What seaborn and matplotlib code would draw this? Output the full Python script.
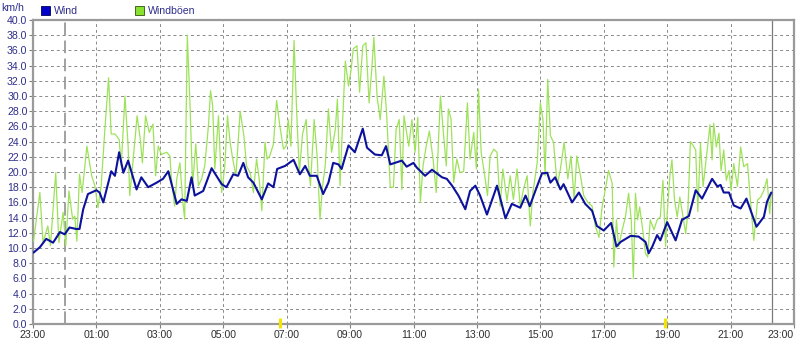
import matplotlib
matplotlib.use("Agg")
import matplotlib.pyplot as plt
import seaborn as sns
import pandas as pd
from matplotlib.patches import Patch

# ---------------- data (minutes after 23:00) ----------------
wind_min = [1, 13, 25, 38, 51, 60, 69, 82, 88, 95, 104, 120, 126, 133, 148, 155, 163, 171, 180,
            196, 205, 218, 234, 246, 256, 272, 281, 291, 300, 306, 322, 338, 357,
            366, 379, 388, 398, 407, 417, 433, 445, 455, 462, 477, 493, 505, 515, 524, 537,
            549, 559, 568, 578, 584, 597, 609, 624, 632, 647, 660, 668, 676, 698, 707, 720,
            726, 742, 755, 774, 783, 793, 805, 818, 827, 837, 846, 859, 878, 894, 906, 922,
            932, 940, 951, 963, 973, 979, 988, 998, 1004, 1020, 1033, 1045, 1058, 1067, 1080,
            1094, 1104, 1112, 1131, 1146, 1159, 1165, 1172, 1181, 1187, 1200, 1216, 1228,
            1241, 1254, 1266, 1285, 1295, 1301, 1307, 1317, 1326, 1339, 1350, 1369, 1383,
            1389, 1397]
wind_kmh = [9.4, 10.1, 11.2, 10.7, 12.1, 11.8, 12.7, 12.5, 12.5, 15.1, 17.1, 17.6, 17.3, 16.0,
            20.1, 19.5, 22.6, 19.9, 21.5, 17.7, 19.3, 18.0, 18.6, 19.1, 20.1, 15.8, 16.4, 16.2,
            19.3, 16.9, 17.5, 20.5, 18.4,
            18.0, 19.7, 19.5, 21.2, 19.3, 18.6, 16.4, 18.5, 18.0, 20.4, 20.8, 21.6, 19.7, 20.8,
            19.5, 19.5, 17.1, 18.6, 21.2, 21.0, 20.4, 23.5, 22.6, 25.7, 23.2, 22.3, 22.2, 23.4,
            21.0, 21.5, 20.7, 21.2,
            20.6, 19.5, 20.3, 19.3, 19.1, 18.2, 16.9, 15.1, 17.5, 18.2, 16.9, 14.4, 18.2, 13.9,
            15.8, 15.3, 16.9, 15.5, 17.6, 19.8, 19.9, 18.6, 19.3, 17.7, 18.4, 16.0, 17.3, 15.8,
            14.9, 12.9, 12.3,
            13.3, 10.2, 10.8, 11.6, 11.5, 10.8, 9.3, 10.2, 11.7, 11.0, 13.4, 11.0, 13.7, 14.2,
            17.6, 16.5, 19.1, 18.1, 18.3, 17.3, 17.3, 15.6, 15.2, 16.5, 12.8, 14.1, 16.1, 17.3]

gust_min = [1, 13, 19, 28, 33, 43, 49, 57, 62, 68, 75, 79, 83, 88, 93, 102, 111, 117, 123, 129,
            136, 143, 148, 155, 163, 167, 174, 180, 183, 189, 197, 203, 207, 213, 220, 227, 232,
            237, 243, 253, 259, 262, 268, 272, 278, 283, 287, 292, 297, 302, 308, 313, 319, 325,
            332, 336, 340, 344, 351, 357, 363,
            368, 373, 378, 384, 392, 399, 404, 411, 417, 423, 428, 433, 439, 443, 448, 455, 461,
            467, 474, 479, 483, 488, 494, 499, 504, 510, 517, 521, 525, 532, 538, 543, 548, 553,
            559, 565, 572, 576, 581, 586, 591, 597, 602, 606, 613, 618, 624, 630, 636, 641, 645,
            651, 657, 664, 669, 676, 682, 687, 693, 698, 702, 711, 717,
            723, 728, 733, 738, 744, 750, 757, 763, 771, 777, 782, 786, 791, 796, 802, 808, 815,
            822, 827, 834, 839, 843, 848, 854, 860, 865, 872, 878, 884, 889, 897, 903, 909, 916,
            922, 928, 935, 941, 946, 954, 960, 965, 969, 974, 979, 985, 992, 998, 1005, 1012,
            1018, 1024, 1029, 1036, 1042, 1050, 1058, 1064, 1071, 1077, 1083,
            1089, 1096, 1099, 1104, 1108, 1115, 1121, 1127, 1132, 1136, 1140, 1144, 1148, 1153,
            1159, 1163, 1168, 1175, 1181, 1187, 1192, 1197, 1200, 1205, 1209, 1214, 1219, 1224,
            1228, 1235, 1239, 1244, 1249, 1254, 1258, 1263, 1268, 1275, 1281, 1285, 1288, 1293,
            1298, 1302, 1307, 1312, 1317, 1321, 1326, 1333, 1339, 1345, 1352, 1358, 1364, 1371,
            1377, 1383, 1389, 1394, 1397]
gust_kmh = [10.9, 17.3, 10.7, 12.9, 10.3, 19.9, 10.7, 14.7, 10.3, 17.5, 13.8, 14.2, 10.9, 19.7,
            17.3, 23.4, 19.5, 18.2, 15.3, 18.2, 25.6, 32.4, 25.0, 25.0, 24.3, 20.8, 30.0, 23.4,
            16.9, 21.2, 27.4, 24.3, 21.2, 27.4, 25.2, 26.3, 19.5, 23.4, 22.3, 22.6, 22.1, 19.1,
            15.5, 19.1, 21.2, 16.4, 13.8, 38.0, 29.1, 18.2, 23.7, 18.2, 19.1, 20.8, 26.1, 30.7,
            28.7, 20.4, 27.4, 17.3, 20.8,
            27.4, 23.9, 21.7, 19.5, 28.0, 24.8, 20.8, 19.9, 17.3, 21.7, 19.1, 14.9, 23.9, 21.7,
            22.1, 23.7, 29.4, 26.1, 23.0, 23.4, 26.9, 23.4, 37.3, 27.8, 19.9, 25.0, 26.9, 21.2,
            18.2, 26.9, 21.7, 13.8, 18.2, 20.8, 28.3, 22.6, 25.6, 29.6, 18.2, 26.9, 34.6, 31.3,
            33.5, 36.2, 36.6, 30.5, 36.6, 37.0, 29.1, 33.5, 37.7, 30.0, 26.9, 32.6, 27.8, 18.0,
            18.0, 25.6, 26.9, 17.7, 27.4, 23.4, 26.9,
            22.6, 27.2, 16.0, 20.8, 23.4, 25.4, 21.7, 17.3, 30.0, 24.8, 20.8, 28.3, 27.0, 18.6,
            21.7, 19.9, 20.1, 29.1, 21.7, 25.2, 20.4, 30.9, 22.6, 19.9, 16.9, 22.1, 23.0, 22.6,
            15.5, 20.4, 16.2, 19.5, 16.4, 20.4, 15.5, 17.7, 19.5, 12.9, 17.3, 21.2, 29.1, 26.9,
            19.5, 32.2, 24.8, 23.9, 18.2, 20.4, 23.9, 19.1, 22.1, 16.4, 22.1, 19.5, 16.9, 16.0,
            15.5, 12.9, 11.4, 15.5, 17.7,
            20.2, 18.5, 7.5, 13.7, 10.2, 12.4, 14.1, 17.2, 13.7, 6.0, 17.2, 13.7, 15.4, 12.8,
            9.3, 8.8, 13.7, 12.4, 13.7, 14.1, 18.9, 10.2, 14.5, 19.4, 21.6, 16.3, 14.1, 16.7,
            15.0, 11.9, 14.5, 24.0, 23.5, 22.9, 14.8, 23.8, 18.1, 22.4, 26.2, 21.6, 26.4, 23.3,
            25.1, 20.2, 22.9, 18.9, 20.2, 17.6, 21.1, 18.1, 23.3, 20.7, 21.1, 15.9, 11.0, 16.3,
            16.7, 17.6, 19.1, 14.5, 17.2]

x_tick_min = [0, 120, 240, 360, 480, 600, 720, 840, 960, 1080, 1200, 1320, 1440]
x_tick_labels = ["23:00", "01:00", "03:00", "05:00", "07:00", "09:00", "11:00",
                 "13:00", "15:00", "17:00", "19:00", "21:00", "23:00"]
y_ticks = [0, 2, 4, 6, 8, 10, 12, 14, 16, 18, 20, 22, 24, 26, 28, 30, 32, 34, 36, 38, 40]
midnight_min = 60
now_min = 1399
sun_min = [467, 1195]
series_names = ["Wind", "Windböen"]
unit_label = "km/h"

# ---------------- plotting ----------------
sns.set_style("white")
plt.rcParams["font.family"] = ["Liberation Sans", "DejaVu Sans"]

WIND_C = "#0c129c"
GUST_C = "#9ee25a"
GRID_C = "#8a8a8a"
LABEL_Y = "#2e2e8c"

fig = plt.figure(figsize=(8, 3.4), dpi=100)
ax = fig.add_axes([33 / 800, 16 / 340, 761 / 800, 304 / 340])

df_g = pd.DataFrame({"t": gust_min, "v": gust_kmh})
df_w = pd.DataFrame({"t": wind_min, "v": wind_kmh})
sns.lineplot(data=df_g, x="t", y="v", color=GUST_C, linewidth=0.9, ax=ax, zorder=3)
sns.lineplot(data=df_w, x="t", y="v", color=WIND_C, linewidth=1.5, ax=ax, zorder=4)

ax.set_xlim(0, 1440)
ax.set_ylim(0, 40)
ax.set_xlabel("")
ax.set_ylabel("")
ax.set_xticks(x_tick_min)
ax.set_xticklabels(x_tick_labels)
ax.set_yticks(y_ticks)
ax.set_yticklabels([f"{v:.1f}" for v in y_ticks])
# keep the last label inside the canvas
ax.get_xticklabels()[-1].set_horizontalalignment("right")

ax.grid(True, color=GRID_C, linestyle=(0, (3, 3)), linewidth=0.7)
ax.set_axisbelow(True)

ax.axvline(midnight_min, color="#9a9a9a", linestyle=(0, (7, 3)), linewidth=1.3, zorder=2)
ax.axvline(now_min, color="#7a7a7a", linewidth=0.9, zorder=2)
for s in sun_min:
    ax.plot([s, s], [-0.5, 0.8], color="#f2e600", linewidth=2.2, clip_on=False, zorder=6,
            solid_capstyle="butt")

for side, sp in ax.spines.items():
    sp.set_color("#9a9a9a")
    sp.set_linewidth(1.6)
    sp.set_visible(True)

ax.tick_params(axis="y", length=3, width=0.8, color="#808080", labelsize=7.6,
               labelcolor=LABEL_Y, pad=1, left=True)
ax.tick_params(axis="x", length=3, width=0.8, color="#808080", labelsize=7.6,
               labelcolor="#303030", pad=1.5, bottom=True)

fig.text(1 / 800, 1 - 8 / 340, unit_label, fontsize=7.6, color=LABEL_Y, va="center", ha="left")

handles = [Patch(facecolor="#0000c8", edgecolor="#00005a", linewidth=0.6),
           Patch(facecolor="#88e030", edgecolor="#305010", linewidth=0.6)]
fig.legend(handles, series_names, loc="center left", bbox_to_anchor=(36 / 800, 1 - 11 / 340),
           ncol=2, frameon=False, fontsize=7.6, handlelength=0.85, handleheight=0.85,
           handletextpad=0.35, columnspacing=5.4, labelcolor=LABEL_Y, borderpad=0)

fig.savefig("out.png", dpi=100)
